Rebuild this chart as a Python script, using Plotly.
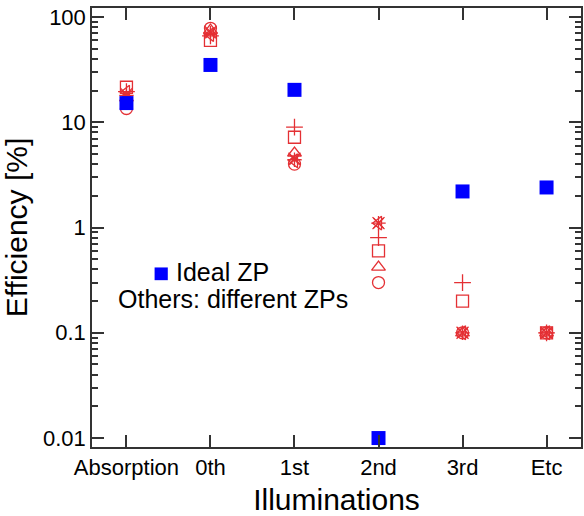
import plotly.graph_objects as go
import numpy as np

categories = ["Absorption", "0th", "1st", "2nd", "3rd", "Etc"]

ideal_zp = [15.2, 35, 20.3, 0.01, 2.2, 2.4]

zp_circle = [13.5, 78, 4.0, 0.30, 0.10, 0.10]
zp_triangle = [17, 75, 5.1, 0.42, 0.10, 0.10]
zp_square = [21.5, 60, 7.2, 0.60, 0.20, 0.10]
zp_plus = [19.5, 66, 9.0, 0.80, 0.30, 0.10]
zp_x = [18.5, 72, 4.5, 1.10, 0.10, 0.10]
zp_left = [19.3, 68, 4.3, 1.10, 0.10, 0.10]
zp_star = [18, 70, 4.4, 1.10, 0.10, 0.10]

y_tickvals = [0.01, 0.1, 1, 10, 100]
y_ticktext = ["0.01", "0.1", "1", "10", "100"]

RED = "rgb(228,48,52)"
BLUE = "rgb(0,0,255)"
FONT = "Liberation Sans, Arial, sans-serif"

fig = go.Figure()

red_series = [
    (zp_circle, "circle-open"),
    (zp_triangle, "triangle-up-open"),
    (zp_square, "square-open"),
    (zp_plus, "cross-thin-open"),
    (zp_x, "x-thin-open"),
    (zp_left, "triangle-left-open"),
    (zp_star, "asterisk-open"),
]
for vals, sym in red_series:
    fig.add_trace(go.Scatter(
        x=categories, y=vals, mode="markers",
        marker=dict(symbol=sym, size=12, color=RED, line=dict(color=RED, width=1.3)),
        showlegend=False,
    ))

fig.add_trace(go.Scatter(
    x=categories, y=ideal_zp, mode="markers",
    marker=dict(symbol="square", size=14, color=BLUE, line=dict(width=0)),
    showlegend=False,
))

minor_vals = [m * 10.0 ** e for e in range(-2, 2) for m in range(2, 10)]

axis_common = dict(
    showline=True, linecolor="#333", linewidth=1.5, mirror="allticks",
    ticks="inside", ticklen=12, tickwidth=1.5, tickcolor="#333",
    showgrid=False, zeroline=False,
    tickfont=dict(family=FONT, size=22, color="black"),
)

fig.update_xaxes(
    type="category", categoryorder="array", categoryarray=categories,
    range=[-0.41, 5.41],
    title=dict(text="Illuminations", font=dict(family=FONT, size=30, color="black"), standoff=14),
    **axis_common,
)
fig.update_yaxes(
    type="log", range=[np.log10(0.01) - 0.085, np.log10(100) + 0.085],
    tickvals=y_tickvals, ticktext=y_ticktext,
    minor=dict(tickvals=minor_vals, ticks="inside", ticklen=6, tickwidth=1.5, tickcolor="#333"),
    title=dict(text="Efficiency [%]", font=dict(family=FONT, size=30, color="black"), standoff=8),
    **axis_common,
)

fig.add_shape(type="rect", xref="paper", yref="paper",
              x0=0.128, x1=0.155, y0=0.380, y1=0.409,
              fillcolor=BLUE, line=dict(width=0))
fig.add_annotation(text="Ideal ZP", xref="paper", yref="paper", x=0.170, y=0.398,
                   xanchor="left", yanchor="middle", showarrow=False, borderpad=0,
                   font=dict(family=FONT, size=25, color="black"))
fig.add_annotation(text="Others: different ZPs", xref="paper", yref="paper", x=0.052, y=0.338,
                   xanchor="left", yanchor="middle", showarrow=False, borderpad=0,
                   font=dict(family=FONT, size=25, color="black"))

fig.update_layout(
    width=584, height=516,
    margin=dict(l=92, r=1, t=8, b=68),
    plot_bgcolor="white", paper_bgcolor="white",
    font=dict(family=FONT, color="black"),
)

fig.write_html("out.html")
